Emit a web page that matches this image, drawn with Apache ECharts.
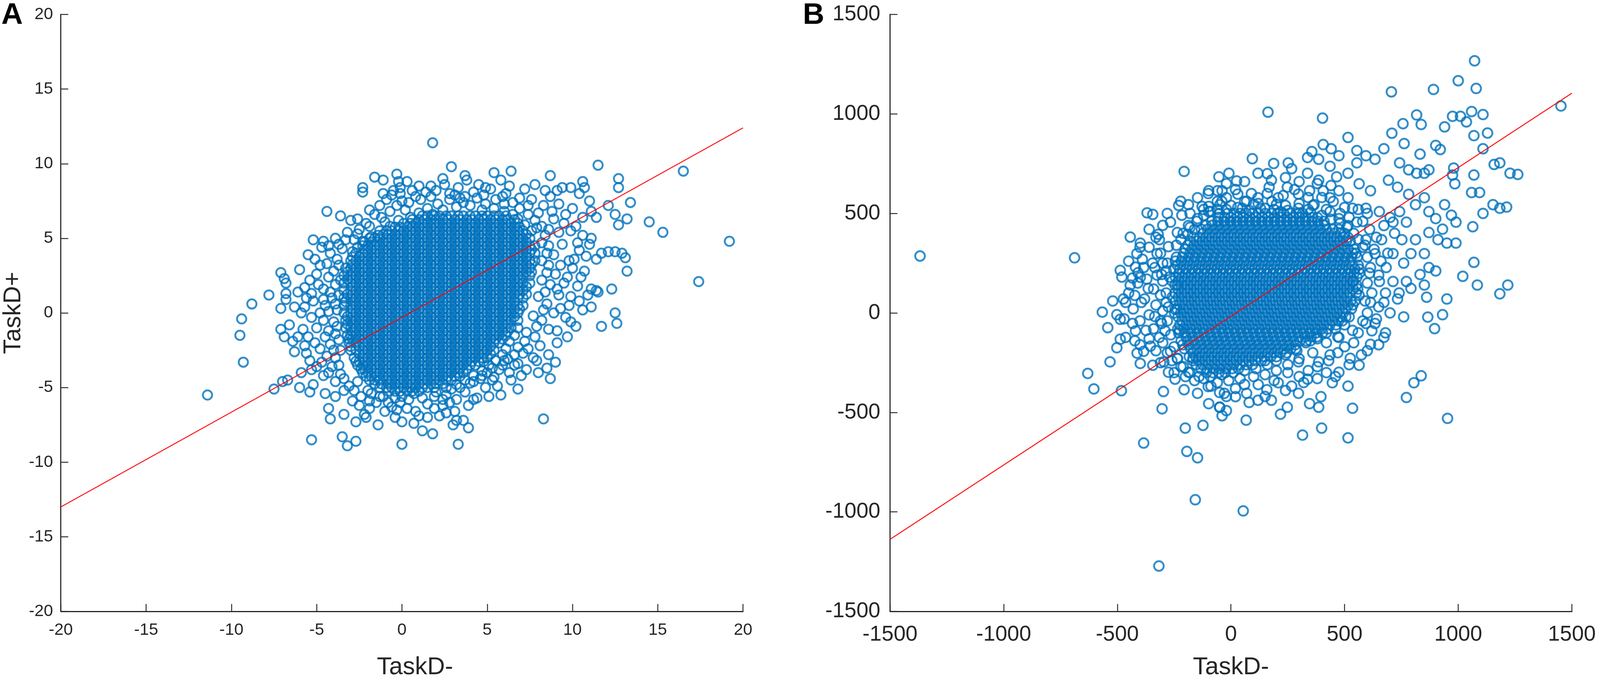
<!DOCTYPE html>
<html lang="en">
<head>
    <meta charset="UTF-8">
    <script src="https://cdn.jsdelivr.net/npm/echarts/dist/echarts.min.js"></script>
    <title>TaskD scatter</title>
    <style>
        html, body { margin: 0; padding: 0; background: #fff; overflow: hidden; }
        #chart { width: 4550px; height: 1752px; }
    </style>
</head>
<body>
<div id="chart"></div>
<script>
    // ---------------- panel A ----------------
    // single points far from the cloud
    var outliersA = [
        [1.8,11.4],[2.9,9.8],[3.7,9.2],[-1.6,9.1],[-1.1,8.9],[-0.3,9.3],[-0.2,8.8],[0.3,8.8],[-2.3,8.4],[-2.3,8.1],
        [-0.5,8.2],[-0.1,8.0],[0.0,7.5],[-4.4,6.8],[-3.6,6.5],[-3.0,6.2],[-2.6,6.3],[-5.2,4.9],[-4.7,4.4],[-4.3,4.5],
        [-5.1,3.6],[-7.1,2.7],[-6.9,2.3],[-6.8,2.0],[-7.8,1.2],[-8.8,0.6],[-7.1,0.3],[-9.4,-0.4],[-9.5,-1.5],[-9.3,-3.3],
        [-7.1,-1.1],[-6.9,-1.6],[-6.8,1.3],[-11.4,-5.5],[-7.5,-5.1],[-7.0,-4.6],[-6.7,-4.5],[-5.3,-8.5],[-3.5,-8.3],[-3.2,-8.9],
        [-2.7,-8.6],[-4.2,-7.1],[-2.7,-7.3],[-1.4,-7.5],[0.0,-8.8],[0.0,-7.3],[1.2,-7.9],[1.8,-8.1],[3.3,-8.8],[3.0,-7.5],
        [3.6,-7.2],[3.9,-7.7],[-2.1,-7.0],[-6.0,-5.0],[-5.4,-5.3],
        [5.4,9.4],[6.4,9.5],[11.5,9.9],[8.7,9.2],[12.7,9.0],[12.7,8.4],[10.6,8.8],[10.7,8.4],[7.8,8.6],[16.5,9.5],
        [13.4,7.4],[13.2,6.3],[14.5,6.1],[15.3,5.4],[19.2,4.8],[17.4,2.1],[13.2,2.8],[13.1,3.7],[12.9,4.0],[12.5,4.1],
        [12.3,1.6],[11.4,1.5],[12.6,-0.7],[12.5,0.0],[11.7,-0.9],[9.9,-0.6],[8.7,-4.4],[6.8,-5.1],[5.8,-5.5],[8.3,-7.1],
        [5.3,-4.5],[4.4,-5.7],[12.1,7.2],[12.5,6.6],[12.7,5.9],[11.1,6.8],[11.4,6.4]
    ];
    // looser band of points round the solid middle
    var haloA = [
        [-5.4,2.2],[-6.1,1.4],[-6.3,0.4],[-5.9,0.0],[-6.6,-0.8],[-6.1,-1.6],[-5.7,-2.2],[-6.3,-2.6],[-5.4,-3.2],[-5.9,-4.0],
        [-5.0,-3.6],[-5.2,-4.8],[-4.5,-5.4],[-3.9,-5.6],[-4.3,-6.4],[-3.4,-6.8],[-2.5,-6.2],[-1.9,-6.4],[-1.0,-6.6],[-0.1,-6.0],
        [0.8,-6.6],[1.5,-7.0],[2.4,-6.2],[3.1,-6.6],[-4.8,3.2],[-4.3,2.4],[-3.7,3.2],[-5.2,0.8],[-4.8,0.0],[-4.3,-1.2],
        [-4.8,-2.4],[-4.1,-3.6],[-3.4,-4.4],[-2.8,-5.2],[-3.9,5.0],[-3.2,5.4],[-2.5,5.6],[-1.9,5.8],[-1.2,6.4],[-0.7,6.8],
        [-0.3,7.2],[0.4,7.4],[1.1,7.6],[1.7,7.8],[3.1,7.9],[3.7,7.8],[-1.4,5.2],
        [9.9,8.4],[10.4,8.0],[9.4,8.4],[9.1,8.2],[8.7,7.8],[10.2,5.8],[10.6,5.2],[11.0,4.6],[10.4,4.2],[10.8,3.8],
        [11.1,5.0],[11.4,3.6],[11.7,4.0],[12.1,4.1],[10.5,2.4],[11.1,1.6],[11.5,1.4],[10.4,0.8],[11.1,0.4],[9.1,-1.2],
        [9.7,-1.6],[9.1,-2.0],[8.6,-2.8],[7.9,-3.2],[8.5,-3.7],[6.8,-3.4],[6.3,-4.0],[7.0,-4.2],[5.1,-5.6],[4.2,-5.8],
        [3.2,-5.8],[3.2,-7.2],
        [-4.6,1.6],[-4.1,1.0],[-3.8,0.2],[-4.0,-0.6],[-3.7,-1.8],[-4.4,-2.9],[-3.9,-3.0],[-3.6,2.2],[-4.0,2.8],[-3.5,4.3],
        [-4.2,4.0],[-3.6,-2.5],[-4.5,0.5],[-5.6,1.0],[-5.0,-1.0],[-5.5,-1.6],[-3.9,-4.6],[-3.1,-4.9],[-4.6,-4.2],
        [-2.8,4.9],[-1.0,6.1],[-1.6,6.6],[0.2,6.9],[0.8,7.8],[1.4,8.1],[2.0,8.2],[2.8,8.0],[4.2,8.1],[4.8,7.9],
        [5.5,7.6],[6.0,7.3],[6.5,7.4],[6.9,7.0],[7.4,6.6],[7.8,6.2],[8.2,5.8],[5.2,8.3],[6.1,8.0],[3.3,8.4],
        [-0.9,7.6],[1.0,8.5],
        [8.4,5.2],[8.6,4.5],[8.9,3.9],[8.6,3.2],[9.0,2.6],[8.7,1.9],[9.2,1.2],[8.5,0.6],[8.9,0.0],[8.2,-0.5],
        [8.6,-1.1],[7.8,-1.6],[8.1,-2.2],[7.4,-2.4],[7.7,-3.0],[9.4,4.6],[9.8,3.5],[9.5,2.0],[9.9,1.1],[9.3,0.3],
        [9.6,-0.3],[9.2,5.4],[9.6,6.6],[8.8,6.8],[8.3,7.2],[7.6,7.6],[10.0,3.0],[10.3,1.8],[9.0,-3.3],[8.0,-4.0],
        [7.3,-3.8],
        [6.6,-2.8],[6.0,-3.2],[5.7,-3.8],[5.0,-4.0],[4.6,-4.4],[4.0,-4.7],[3.4,-5.0],[2.6,-5.5],[1.9,-5.6],[1.2,-5.7],
        [0.4,-5.8],[-0.4,-5.7],[-1.1,-5.6],[-1.8,-5.4],[-2.4,-5.6],[-0.6,-6.3],[0.3,-6.4],[1.9,-6.4],[2.8,-6.0],[4.9,-5.0],
        [5.6,-4.9],[6.4,-4.5],[-1.5,-6.0],[2.2,-6.9],[-0.4,-7.0],
        [-3.8,3.6],[-4.4,3.3],[-5.0,2.6],[-3.9,1.9],[-4.9,1.9],[-5.7,1.7],[-4.2,1.4],[-3.7,1.2],[-5.3,1.3],[-4.6,0.9],
        [-3.9,0.6],[-5.7,0.4],[-4.3,0.1],[-5.3,-0.3],[-4.6,-0.5],[-3.8,-0.9],[-5.8,-1.1],[-4.5,-1.6],[-3.9,-1.4],[-5.1,-2.0],
        [-4.2,-2.1],[-5.6,-2.7],[-4.0,-2.5],[-4.7,-3.3],[-3.7,-3.5],[-5.3,-3.8],[-4.3,-4.0],[-3.6,-4.1],[-6.4,-1.9],[-6.8,0.9],
        [-6.0,2.9],[-5.5,3.9],[-4.6,4.8],[-3.7,4.6],[-3.3,4.9],
        [8.2,4.7],[8.5,4.0],[8.2,3.5],[8.5,2.7],[8.2,2.2],[8.4,1.4],[8.0,1.1],[8.3,0.2],[7.7,-0.2],[7.9,-0.9],
        [7.3,-1.3],[7.2,-1.9],[6.8,-2.3],[6.6,-3.5],[7.1,-2.7],[9.3,3.2],[9.7,2.4],[9.1,1.6],[9.8,0.5],[10.2,-0.9],
        [10.6,0.2],[10.9,1.2],[10.7,2.8],[10.1,3.6],[10.3,4.7],[9.9,5.5],[9.5,6.0],[8.9,6.3],[8.6,5.6],[7.9,5.7],
        [8.0,6.7],[8.4,8.2],[9.2,7.3],[10.0,7.0],[10.6,6.4],[11.0,7.5],[7.4,7.2],[6.9,7.7],[5.9,7.8],[6.3,8.5],
        [7.2,8.3],
        [4.5,8.6],[3.8,8.9],[2.5,8.6],[1.7,8.5],[0.6,8.2],[-0.1,8.4],[-0.6,7.9],[-1.3,7.2],[-1.9,6.9],[-2.1,6.0],
        [-2.6,5.3],[-1.1,8.0],[5.8,8.9],[4.9,8.4],[2.4,9.0],
        [-2.0,-5.2],[-2.6,-4.6],[-1.3,-5.6],[-0.8,-6.0],[0.0,-5.6],[0.7,-5.4],[1.5,-6.1],[2.4,-5.8],[2.9,-5.1],[3.7,-5.3],
        [4.2,-4.6],[4.7,-4.2],[5.4,-4.3],[5.3,-3.7],[5.9,-3.5],[6.2,-3.1],[3.9,-6.2],[1.0,-6.9],[-0.3,-6.5],[-1.9,-5.9],
        [-2.9,-5.9],[-3.4,-5.2],[-2.2,-6.8],[0.7,-7.4],[2.6,-6.7],
        [2.8,7.6],[3.6,7.4],[4.4,7.7],[2.1,7.3],[3.2,7.1],[4.0,7.2],[4.9,7.3],[1.5,7.0],[2.4,6.9],[5.4,7.0],
        [6.0,6.8],[1.0,6.7],[1.8,6.6],[6.5,6.6],[0.5,6.4],[-0.2,6.2],[-0.7,5.8],[-1.3,5.5],[-1.8,5.1],[-2.3,4.8],
        [-2.6,4.4],[-2.9,4.1],[6.8,6.3],[7.2,5.9],[7.6,5.5],[6.8,-1.0],[6.6,-1.5],[6.3,-1.9],[6.1,-2.4],[5.9,-2.8],
        [5.5,-3.2],[5.1,-3.5],[4.7,-3.9],[4.2,-4.2],[3.7,-4.5],[3.2,-4.8],[2.6,-5.0],[2.0,-5.3],[3.4,7.7],[4.7,6.9]
    ];
    // solid middle of the cloud: one row per TaskD+ level, x positions along it
    var coreRowsA = [
        [6.5,[1.2,1.5,1.9,2.2,2.6,2.9,3.3,3.6,4.0,4.3,4.7,5.0,5.4,5.7,6.1]],
        [6.25,[0.6,1.0,1.3,1.7,2.0,2.4,2.7,3.1,3.4,3.8,4.1,4.5,4.8,5.2,5.5,5.9,6.2,6.6]],
        [6.0,[0.1,0.5,0.8,1.2,1.5,1.9,2.2,2.6,2.9,3.3,3.6,4.0,4.3,4.7,5.0,5.4,5.7,6.1,6.4,6.8]],
        [5.75,[-0.4,-0.1,0.3,0.6,1.0,1.3,1.7,2.0,2.4,2.7,3.1,3.4,3.8,4.1,4.5,4.8,5.2,5.5,5.9,6.2,6.6,6.9]],
        [5.5,[-0.9,-0.6,-0.2,0.1,0.5,0.8,1.2,1.5,1.9,2.2,2.6,2.9,3.3,3.6,4.0,4.3,4.7,5.0,5.4,5.7,6.1,6.4,6.8,7.1]],
        [5.25,[-1.1,-0.8,-0.4,-0.1,0.3,0.6,1.0,1.3,1.7,2.0,2.4,2.7,3.1,3.4,3.8,4.1,4.5,4.8,5.2,5.5,5.9,6.2,6.6,6.9,7.3]],
        [5.0,[-1.9,-1.6,-1.3,-0.9,-0.6,-0.2,0.1,0.5,0.8,1.2,1.5,1.9,2.2,2.6,2.9,3.3,3.6,4.0,4.3,4.7,5.0,5.4,5.7,6.1,6.4,6.8,7.1,7.5]],
        [4.75,[-2.2,-1.8,-1.5,-1.1,-0.8,-0.4,-0.1,0.3,0.6,1.0,1.3,1.7,2.0,2.4,2.7,3.1,3.4,3.8,4.1,4.5,4.8,5.2,5.5,5.9,6.2,6.6,6.9,7.3]],
        [4.5,[-2.3,-2.0,-1.6,-1.3,-0.9,-0.6,-0.2,0.1,0.5,0.8,1.2,1.5,1.9,2.2,2.6,2.9,3.3,3.6,4.0,4.3,4.7,5.0,5.4,5.7,6.1,6.4,6.8,7.1,7.5,7.8]],
        [4.25,[-2.2,-1.8,-1.5,-1.1,-0.8,-0.4,-0.1,0.3,0.6,1.0,1.3,1.7,2.0,2.4,2.7,3.1,3.4,3.8,4.1,4.5,4.8,5.2,5.5,5.9,6.2,6.6,6.9,7.3,7.6]],
        [4.0,[-2.7,-2.3,-2.0,-1.6,-1.3,-0.9,-0.6,-0.2,0.1,0.5,0.8,1.2,1.5,1.9,2.2,2.6,2.9,3.3,3.6,4.0,4.3,4.7,5.0,5.4,5.7,6.1,6.4,6.8,7.1,7.5,7.8]],
        [3.75,[-2.9,-2.5,-2.2,-1.8,-1.5,-1.1,-0.8,-0.4,-0.1,0.3,0.6,1.0,1.3,1.7,2.0,2.4,2.7,3.1,3.4,3.8,4.1,4.5,4.8,5.2,5.5,5.9,6.2,6.6,6.9,7.3]],
        [3.5,[-3.0,-2.7,-2.3,-2.0,-1.6,-1.3,-0.9,-0.6,-0.2,0.1,0.5,0.8,1.2,1.5,1.9,2.2,2.6,2.9,3.3,3.6,4.0,4.3,4.7,5.0,5.4,5.7,6.1,6.4,6.8,7.1,7.5,7.8]],
        [3.25,[-2.9,-2.5,-2.2,-1.8,-1.5,-1.1,-0.8,-0.4,-0.1,0.3,0.6,1.0,1.3,1.7,2.0,2.4,2.7,3.1,3.4,3.8,4.1,4.5,4.8,5.2,5.5,5.9,6.2,6.6,6.9,7.3,7.6]],
        [3.0,[-3.3,-3.0,-2.7,-2.3,-2.0,-1.6,-1.3,-0.9,-0.6,-0.2,0.1,0.5,0.8,1.2,1.5,1.9,2.2,2.6,2.9,3.3,3.6,4.0,4.3,4.7,5.0,5.4,5.7,6.1,6.4,6.8,7.1,7.5]],
        [2.75,[-3.2,-2.9,-2.5,-2.2,-1.8,-1.5,-1.1,-0.8,-0.4,-0.1,0.3,0.6,1.0,1.3,1.7,2.0,2.4,2.7,3.1,3.4,3.8,4.1,4.5,4.8,5.2,5.5,5.9,6.2,6.6,6.9,7.3,7.6]],
        [2.5,[-3.4,-3.0,-2.7,-2.3,-2.0,-1.6,-1.3,-0.9,-0.6,-0.2,0.1,0.5,0.8,1.2,1.5,1.9,2.2,2.6,2.9,3.3,3.6,4.0,4.3,4.7,5.0,5.4,5.7,6.1,6.4,6.8,7.1,7.5]],
        [2.25,[-3.2,-2.9,-2.5,-2.2,-1.8,-1.5,-1.1,-0.8,-0.4,-0.1,0.3,0.6,1.0,1.3,1.7,2.0,2.4,2.7,3.1,3.4,3.8,4.1,4.5,4.8,5.2,5.5,5.9,6.2,6.6,6.9]],
        [2.0,[-3.4,-3.0,-2.7,-2.3,-2.0,-1.6,-1.3,-0.9,-0.6,-0.2,0.1,0.5,0.8,1.2,1.5,1.9,2.2,2.6,2.9,3.3,3.6,4.0,4.3,4.7,5.0,5.4,5.7,6.1,6.4,6.8,7.1,7.5]],
        [1.75,[-2.9,-2.5,-2.2,-1.8,-1.5,-1.1,-0.8,-0.4,-0.1,0.3,0.6,1.0,1.3,1.7,2.0,2.4,2.7,3.1,3.4,3.8,4.1,4.5,4.8,5.2,5.5,5.9,6.2,6.6,6.9,7.3]],
        [1.5,[-3.4,-3.0,-2.7,-2.3,-2.0,-1.6,-1.3,-0.9,-0.6,-0.2,0.1,0.5,0.8,1.2,1.5,1.9,2.2,2.6,2.9,3.3,3.6,4.0,4.3,4.7,5.0,5.4,5.7,6.1,6.4,6.8,7.1]],
        [1.25,[-3.2,-2.9,-2.5,-2.2,-1.8,-1.5,-1.1,-0.8,-0.4,-0.1,0.3,0.6,1.0,1.3,1.7,2.0,2.4,2.7,3.1,3.4,3.8,4.1,4.5,4.8,5.2,5.5,5.9,6.2,6.6,6.9,7.3]],
        [1.0,[-3.4,-3.0,-2.7,-2.3,-2.0,-1.6,-1.3,-0.9,-0.6,-0.2,0.1,0.5,0.8,1.2,1.5,1.9,2.2,2.6,2.9,3.3,3.6,4.0,4.3,4.7,5.0,5.4,5.7,6.1,6.4,6.8,7.1]],
        [0.75,[-3.3,-2.9,-2.5,-2.2,-1.8,-1.5,-1.1,-0.8,-0.4,-0.1,0.3,0.6,1.0,1.3,1.7,2.0,2.4,2.7,3.1,3.4,3.8,4.1,4.5,4.8,5.2,5.5,5.9,6.2,6.6]],
        [0.5,[-3.4,-3.0,-2.7,-2.3,-2.0,-1.6,-1.3,-0.9,-0.6,-0.2,0.1,0.5,0.8,1.2,1.5,1.9,2.2,2.6,2.9,3.3,3.6,4.0,4.3,4.7,5.0,5.4,5.7,6.1,6.4,6.8,7.1]],
        [0.25,[-2.9,-2.5,-2.2,-1.8,-1.5,-1.1,-0.8,-0.4,-0.1,0.3,0.6,1.0,1.3,1.7,2.0,2.4,2.7,3.1,3.4,3.8,4.1,4.5,4.8,5.2,5.5,5.9,6.2,6.6,6.9]],
        [0.0,[-3.4,-3.0,-2.7,-2.3,-2.0,-1.6,-1.3,-0.9,-0.6,-0.2,0.1,0.5,0.8,1.2,1.5,1.9,2.2,2.6,2.9,3.3,3.6,4.0,4.3,4.7,5.0,5.4,5.7,6.1,6.4,6.8]],
        [-0.25,[-3.2,-2.9,-2.5,-2.2,-1.8,-1.5,-1.1,-0.8,-0.4,-0.1,0.3,0.6,1.0,1.3,1.7,2.0,2.4,2.7,3.1,3.4,3.8,4.1,4.5,4.8,5.2,5.5,5.9,6.2,6.6]],
        [-0.5,[-3.3,-3.0,-2.7,-2.3,-2.0,-1.6,-1.3,-0.9,-0.6,-0.2,0.1,0.5,0.8,1.2,1.5,1.9,2.2,2.6,2.9,3.3,3.6,4.0,4.3,4.7,5.0,5.4,5.7,6.1,6.4,6.8]],
        [-0.75,[-3.2,-2.9,-2.5,-2.2,-1.8,-1.5,-1.1,-0.8,-0.4,-0.1,0.3,0.6,1.0,1.3,1.7,2.0,2.4,2.7,3.1,3.4,3.8,4.1,4.5,4.8,5.2,5.5,5.9,6.2]],
        [-1.0,[-3.3,-3.0,-2.7,-2.3,-2.0,-1.6,-1.3,-0.9,-0.6,-0.2,0.1,0.5,0.8,1.2,1.5,1.9,2.2,2.6,2.9,3.3,3.6,4.0,4.3,4.7,5.0,5.4,5.7,6.1,6.4]],
        [-1.25,[-2.9,-2.5,-2.2,-1.8,-1.5,-1.1,-0.8,-0.4,-0.1,0.3,0.6,1.0,1.3,1.7,2.0,2.4,2.7,3.1,3.4,3.8,4.1,4.5,4.8,5.2,5.5,5.9,6.2]],
        [-1.5,[-3.2,-3.0,-2.7,-2.3,-2.0,-1.6,-1.3,-0.9,-0.6,-0.2,0.1,0.5,0.8,1.2,1.5,1.9,2.2,2.6,2.9,3.3,3.6,4.0,4.3,4.7,5.0,5.4,5.7,6.1]],
        [-1.75,[-3.1,-2.9,-2.5,-2.2,-1.8,-1.5,-1.1,-0.8,-0.4,-0.1,0.3,0.6,1.0,1.3,1.7,2.0,2.4,2.7,3.1,3.4,3.8,4.1,4.5,4.8,5.2,5.5,5.9]],
        [-2.0,[-3.1,-2.7,-2.3,-2.0,-1.6,-1.3,-0.9,-0.6,-0.2,0.1,0.5,0.8,1.2,1.5,1.9,2.2,2.6,2.9,3.3,3.6,4.0,4.3,4.7,5.0,5.4,5.7]],
        [-2.25,[-3.0,-2.5,-2.2,-1.8,-1.5,-1.1,-0.8,-0.4,-0.1,0.3,0.6,1.0,1.3,1.7,2.0,2.4,2.7,3.1,3.4,3.8,4.1,4.5,4.8,5.2]],
        [-2.5,[-3.0,-2.7,-2.3,-2.0,-1.6,-1.3,-0.9,-0.6,-0.2,0.1,0.5,0.8,1.2,1.5,1.9,2.2,2.6,2.9,3.3,3.6,4.0,4.3,4.7,5.0,5.4]],
        [-2.75,[-2.5,-2.2,-1.8,-1.5,-1.1,-0.8,-0.4,-0.1,0.3,0.6,1.0,1.3,1.7,2.0,2.4,2.7,3.1,3.4,3.8,4.1,4.5,4.8,5.2]],
        [-3.0,[-2.8,-2.3,-2.0,-1.6,-1.3,-0.9,-0.6,-0.2,0.1,0.5,0.8,1.2,1.5,1.9,2.2,2.6,2.9,3.3,3.6,4.0,4.3,4.7,5.0]],
        [-3.25,[-2.7,-2.5,-2.2,-1.8,-1.5,-1.1,-0.8,-0.4,-0.1,0.3,0.6,1.0,1.3,1.7,2.0,2.4,2.7,3.1,3.4,3.8,4.1,4.5,4.8]],
        [-3.5,[-2.6,-2.3,-2.0,-1.6,-1.3,-0.9,-0.6,-0.2,0.1,0.5,0.8,1.2,1.5,1.9,2.2,2.6,2.9,3.3,3.6,4.0,4.3]],
        [-3.75,[-2.4,-2.2,-1.8,-1.5,-1.1,-0.8,-0.4,-0.1,0.3,0.6,1.0,1.3,1.7,2.0,2.4,2.7,3.1,3.4,3.8]],
        [-4.0,[-2.3,-2.0,-1.6,-1.3,-0.9,-0.6,-0.2,0.1,0.5,0.8,1.2,1.5,1.9,2.2,2.6,2.9,3.3,3.6]],
        [-4.25,[-2.1,-1.8,-1.5,-1.1,-0.8,-0.4,-0.1,0.3,0.6,1.0,1.3,1.7,2.0,2.4,2.7,3.1,3.4]],
        [-4.5,[-1.9,-1.6,-1.3,-0.9,-0.6,-0.2,0.1,0.5,0.8,1.2,1.5,1.9,2.2,2.6,2.9]],
        [-4.75,[-1.6,-1.2,-0.8,-0.4,-0.1,0.3,0.6,1.0,1.3,1.7,2.0,2.4]],
        [-5.0,[-1.3,-0.9,-0.6,-0.2,0.1,0.5,0.8,1.2,1.5,1.9]],
        [-5.25,[-0.8,-0.4,-0.1,0.3,0.6,1.0]]
    ];
    // red fit line, ends read at the axis limits
    var lineA = [[-20,-13.0],[20,12.4]];

    // ---------------- panel B ----------------
    var outliersB = [
        [-1368,286],[-688,277],[-206,711],[-221,561],[-369,503],[-344,495],[-443,381],[-399,351],[-320,395],[-487,214],
        [-409,202],[-399,179],[-566,4],[-542,-74],[-532,-246],[-630,-304],[-603,-382],[-482,-391],[-384,-654],[-303,-482],
        [-297,-395],[-201,-579],[-123,-565],[-194,-696],[-147,-728],[-157,-939],[-317,-1272],[-39,-517],[-53,684],[-9,702],
        [-502,-9],[-487,-32],[-473,70],[-433,175],[-423,88],[-502,-175],[-487,-132],[-423,-140],[-413,-202],[-354,-167],
        [-295,-246],[-399,-254],[-127,535],[-98,535],
        [1072,1267],[1000,1167],[891,1123],[1079,1128],[706,1111],[163,1009],[403,979],[1452,1040],[817,995],[837,947],
        [757,951],[940,935],[975,988],[1010,988],[1036,960],[1059,1012],[1109,997],[1069,891],[1129,904],[1109,825],
        [708,903],[762,851],[832,798],[901,842],[921,821],[1069,693],[1158,746],[1183,754],[1228,702],[1262,696],
        [1059,605],[1094,605],[1153,544],[1183,526],[1213,532],[1109,500],[1064,433],[1069,254],[1020,184],[1084,140],
        [1183,96],[1218,140],[950,70],[861,79],[866,-21],[931,-9],[896,-79],[837,-316],[805,-351],[772,-425],
        [953,-530],[54,-995],[515,-628],[315,-614],[399,-579],[535,-479],[67,-539],[25,663],[980,728],[975,693],
        [985,649]
    ];
    var haloB = [
        [94,775],[188,751],[515,882],[554,816],[406,846],[441,825],[337,781],[356,811],[252,754],[267,725],
        [742,754],[782,719],[817,702],[851,702],[871,719],[693,667],[733,632],[782,596],[812,544],[851,579],
        [871,509],[901,474],[940,544],[970,491],[990,456],[931,421],[871,404],[812,368],[851,298],[792,298],
        [752,368],[871,228],[911,368],[950,351],[990,351],[901,211],[832,193],[772,158],[792,123],[851,140],
        [733,70],[673,53],[634,-53],[673,-123],[614,-158],[574,-211],[525,-228],[564,-263],[475,-298],[515,-368],
        [446,-351],[396,-421],[386,-474],[346,-456],[297,-404],[248,-474],[218,-509],[178,-439],[158,-386],[119,-439],
        [69,-404],[20,-421],[-20,-491],[-50,-474],[267,-368],[208,-351],[337,-333],[386,-246],[436,-211],[297,-246],
        [475,-123],[535,-88],[594,-53],[614,53],[564,88],[535,158],[614,228],[653,158],[634,298],[594,368],
        [663,368],[713,298],[683,228],[713,158],[535,526],[594,526],[614,614],[564,649],[515,702],[475,614],
        [436,579],[386,667],[337,702],[297,597],[248,632],[208,579],[168,632],[119,579],[69,561],[30,597],
        [-40,561],[-59,614],[653,509],[673,439],[713,456],[742,509],[772,456],[673,825],[634,772],[594,790],
        [554,754],[475,790],[436,737],[386,772],
        [-20,579],[50,526],[149,526],[218,509],[297,526],[366,544],[436,509],[475,474],[515,439],[554,456],
        [119,702],[178,667],[346,614],[406,614],[465,684],[515,579],
        [-443,140],[-384,228],[-364,123],[-325,298],[-305,193],[-285,53],[-335,-18],[-374,-88],[-315,-123],[-266,-193],
        [-344,-263],[-246,-333],[-206,-386],[-147,-404],[-98,-456],[-49,-474],[-187,-298],[-275,333],[-236,404],[-187,439],
        [-147,474],[-98,509],[-49,544],[-266,456],[-315,368],[-414,298],[-463,53],[-433,-53],[-463,-123],[-384,-193],
        [-335,228],[-394,53],[-305,-53],[-226,-88],[-167,-228],[-88,-368],[-29,-404],[-275,-298],[-39,614],[-98,614],
        [-147,579],[-187,544],[-216,491],[-285,211],[-236,140],[-246,18],[-236,-228],
        [-300,440],[-330,380],[-360,330],[-310,300],[-390,270],[-345,250],[-300,250],[-420,230],[-325,190],[-370,170],
        [-300,160],[-410,150],[-340,120],[-450,100],[-310,90],[-380,70],[-330,40],[-430,20],[-300,10],[-360,-10],
        [-400,-40],[-310,-40],[-340,-80],[-420,-90],[-290,-90],[-360,-130],[-300,-150],[-400,-160],[-330,-190],[-280,-200],
        [-260,-240],[-310,-250],[-220,-270],[-250,-300],[-200,-320],[-160,-340],[-120,-330],[-60,-350],[-10,-340],[40,-330],
        [-100,-370],[-50,-400],[-470,-30],[-520,60],[-480,180],[-450,260],[-400,330],[-360,420],[-280,500],[-230,540],
        [-180,500],[-120,520],[-60,560],[0,540],[60,560],[120,550],[180,560],[240,540],[300,550],[360,540],
        [420,520],[480,500],[520,480],[-100,600],[20,620],[90,600],[160,600],[230,590],[280,620],[340,580],
        [400,580],[450,560],[500,530],[560,520],[600,500],[240,680],[160,700],[60,660],[-20,650],[300,660],
        [380,650],[440,640],
        [580,460],[610,420],[640,380],[590,340],[630,320],[600,280],[660,260],[610,200],[650,190],[600,150],
        [680,100],[620,100],[590,60],[650,30],[600,0],[640,-30],[580,-40],[620,-90],[560,-100],[540,-150],
        [600,-190],[500,-170],[470,-200],[430,-240],[520,-260],[380,-270],[340,-290],[420,-300],[690,300],[720,400],
        [700,480],[760,250],[740,100],[700,0],[760,-20],[680,-100],[650,-160],
        [300,-320],[250,-300],[200,-290],[150,-310],[100,-320],[60,-360],[120,-360],[190,-340],[240,-390],[320,-350],
        [380,-330],[460,-320],[20,-380],[-20,-420],[80,-450],[150,-420],
        [-280,250],[-270,180],[-285,100],[-275,30],[-280,-40],[-265,-110],[-250,-170],[-235,-230],[-210,-270],[-180,-300],
        [-140,-320],[-90,-320],[-40,-310],[10,-300],[60,-290],[110,-280],[160,-260],[200,-240],[240,-210],[290,-190],
        [330,-150],[380,-130],[420,-100],[460,-80],[500,-60],[520,-20],[420,-150],[360,-200],[300,-230],[250,-260],
        [470,-120],[-210,400],[-180,430],[-150,460],[-120,490],[-90,510],[-60,520],[-20,520],[30,530],[80,515],
        [130,525],[190,520],[250,515],[300,500],[350,505],[400,490],[440,470],[480,450],[510,430],[540,400],
        [560,370],[580,330],[-240,340],[-220,370],[-190,395],[-160,420],[-50,500],[340,520],[100,545],[200,545]
    ];
    var coreRowsB = [
        [500,[-15,12,40,67,95,122,150,177,205,232,260,287,315]],
        [480,[-55,-27,0,28,55,83,110,138,165,193,220,248,275,303,330,358,380]],
        [460,[-85,-58,-30,-3,25,52,80,107,135,162,190,217,245,272,300,327,355,382,410]],
        [440,[-110,-82,-55,-27,0,28,55,83,110,138,165,193,220,248,275,303,330,358,385,413]],
        [420,[-130,-103,-75,-48,-20,7,35,62,90,117,145,172,200,227,255,282,310,337,365,392,420,447,475]],
        [400,[-122,-95,-67,-40,-12,15,43,70,98,125,153,180,208,235,263,290,318,345,373,400,428,455,483,500]],
        [380,[-165,-138,-110,-83,-55,-28,0,27,55,82,110,137,165,192,220,247,275,302,330,357,385,412,440,467,495,515]],
        [360,[-180,-152,-125,-97,-70,-42,-15,13,40,68,95,123,150,178,205,233,260,288,315,343,370,398,425,453,480,508,525]],
        [340,[-190,-163,-135,-108,-80,-53,-25,2,30,57,85,112,140,167,195,222,250,277,305,332,360,387,415,442,470,497]],
        [320,[-200,-172,-145,-117,-90,-62,-35,-7,20,48,75,103,130,158,185,213,240,268,295,323,350,378,405,433,460,488,515,543]],
        [300,[-207,-180,-152,-125,-97,-70,-42,-15,13,40,68,95,123,150,178,205,233,260,288,315,343,370,398,425,453,480,508,535,550]],
        [280,[-240,-213,-185,-158,-130,-103,-75,-48,-20,7,35,62,90,117,145,172,200,227,255,282,310,337,365,392,420,447,475,502,530,555]],
        [260,[-245,-218,-190,-163,-135,-108,-80,-53,-25,2,30,57,85,112,140,167,195,222,250,277,305,332,360,387,415,442,470,497,525]],
        [240,[-236,-208,-181,-153,-126,-98,-71,-43,-16,12,39,67,94,122,149,177,204,232,259,287,314,342,369,397,424,452,479,507,534,560]],
        [220,[-252,-225,-197,-170,-142,-115,-87,-60,-32,-5,23,50,78,105,133,160,188,215,243,270,298,325,353,380,408,435,463,490,518,545,565]],
        [200,[-228,-200,-173,-145,-118,-90,-63,-35,-8,20,47,75,102,130,157,185,212,240,267,295,322,350,377,405,432,460,487,515,542,565]],
        [180,[-244,-216,-189,-161,-134,-106,-79,-51,-24,4,31,59,86,114,141,169,196,224,251,279,306,334,361,389,416,444,471,499,526,554]],
        [160,[-259,-231,-204,-176,-149,-121,-94,-66,-39,-11,16,44,71,99,126,154,181,209,236,264,291,319,346,374,401,429,456,484,511,539]],
        [140,[-246,-218,-191,-163,-136,-108,-81,-53,-26,2,29,57,84,112,139,167,194,222,249,277,304,332,359,387,414,442,469,497,524,552]],
        [120,[-232,-204,-177,-149,-122,-94,-67,-39,-12,16,43,71,98,126,153,181,208,236,263,291,318,346,373,401,428,456,483,511,538,558]],
        [100,[-246,-218,-191,-163,-136,-108,-81,-53,-26,2,29,57,84,112,139,167,194,222,249,277,304,332,359,387,414,442,469,497,524,552]],
        [80,[-258,-231,-203,-176,-148,-121,-93,-66,-38,-11,17,44,72,99,127,154,182,209,237,264,292,319,347,374,402,429,457,484,512]],
        [60,[-243,-215,-188,-160,-133,-105,-78,-50,-23,5,32,60,87,115,142,170,197,225,252,280,307,335,362,390,417,445,472,500,527,546]],
        [40,[-227,-199,-172,-144,-117,-89,-62,-34,-7,21,48,76,103,131,158,186,213,241,268,296,323,351,378,406,433,461,488,516,536]],
        [20,[-238,-210,-183,-155,-128,-100,-73,-45,-18,10,37,65,92,120,147,175,202,230,257,285,312,340,367,395,422,450,477,505,530]],
        [0,[-248,-221,-193,-166,-138,-111,-83,-56,-28,-1,27,54,82,109,137,164,192,219,247,274,302,329,357,384,412,439,467,494]],
        [-20,[-232,-204,-177,-149,-122,-94,-67,-39,-12,16,43,71,98,126,153,181,208,236,263,291,318,346,373,401,428,456,483,505]],
        [-40,[-215,-187,-160,-132,-105,-77,-50,-22,5,33,60,88,115,143,170,198,225,253,280,308,335,363,390,418,445,473,490]],
        [-60,[-225,-197,-170,-142,-115,-87,-60,-32,-5,23,50,78,105,133,160,188,215,243,270,298,325,353,380,408,435,463]],
        [-80,[-234,-207,-179,-152,-124,-97,-69,-42,-14,13,41,68,96,123,151,178,206,233,261,288,316,343,371,398,426]],
        [-100,[-230,-202,-175,-147,-120,-92,-65,-37,-10,18,45,73,100,128,155,183,210,238,265,293,320,348,375,403]],
        [-120,[-197,-169,-142,-114,-87,-59,-32,-4,23,51,78,106,133,161,188,216,243,271,298,326,353,378]],
        [-140,[-219,-191,-164,-136,-109,-81,-54,-26,1,29,56,84,111,139,166,194,221,249,276,304,331,350]],
        [-160,[-212,-185,-157,-130,-102,-75,-47,-20,8,35,63,90,118,145,173,200,228,255,283]],
        [-180,[-205,-177,-150,-122,-95,-67,-40,-12,15,43,70,98,125,153,180,208,235,263,285]],
        [-200,[-167,-139,-112,-84,-57,-29,-2,26,53,81,108,136,163,191,218,245]],
        [-220,[-183,-155,-128,-100,-73,-45,-18,10,37,65,92,120,147,175,200]],
        [-240,[-168,-141,-113,-86,-58,-31,-3,24,52,79,107,134,150]],
        [-260,[-153,-125,-98,-70,-43,-15,12,40,67,95]],
        [-280,[-132,-105,-77,-50,-22,5,33]],
        [-300,[-108,-80,-53,-25]]
    ];
    var lineB = [[-1500,-1138],[1500,1104]];

    // turn the row tables into [x, y] pairs
    function rowsToPoints(rows) {
        var out = [];
        rows.forEach(function (row) {
            row[1].forEach(function (x) { out.push([x, row[0]]); });
        });
        return out;
    }
    var pointsA = outliersA.concat(haloA, rowsToPoints(coreRowsA));
    var pointsB = outliersB.concat(haloB, rowsToPoints(coreRowsB));

    // page may come up narrower than the 4550x1752 it was laid out for
    var W = window.innerWidth || 4550;
    var H = window.innerHeight || 1752;
    var sx = W / 4550, sy = H / 1752, s = (sx + sy) / 2;

    var chartDom = document.getElementById('chart');
    chartDom.style.width = W + 'px';
    chartDom.style.height = H + 'px';

    var axisColor = '#262626';
    var fontName = '"Liberation Sans", Arial, Helvetica, sans-serif';

    // matlab-like axis: line only on its own side, ticks pointing in
    function makeAxis(grid, min, max, step, labelSize, labelMargin) {
        return {
            type: 'value',
            gridIndex: grid,
            min: min,
            max: max,
            interval: step,
            axisLine: { show: true, onZero: false, lineStyle: { color: axisColor, width: 3 * s } },
            axisTick: { show: true, inside: true, length: 20 * s, lineStyle: { color: axisColor, width: 2.5 * s } },
            axisLabel: {
                color: axisColor, fontSize: labelSize * s, fontFamily: fontName, margin: labelMargin * s,
                formatter: function (v) { return String(v); }
            },
            splitLine: { show: false }
        };
    }

    var xA = makeAxis(0, -20, 20, 5, 45, 28);
    xA.name = 'TaskD-';
    xA.nameLocation = 'middle';
    xA.nameGap = 112 * sy;
    xA.nameTextStyle = { color: axisColor, fontSize: 66 * s, fontFamily: fontName, padding: [0, 0, 0, 74 * sx] };

    var yA = makeAxis(0, -20, 20, 5, 45, 21);
    yA.name = 'TaskD+';
    yA.nameLocation = 'middle';
    yA.nameGap = 100 * sx;
    yA.nameRotate = 90;
    yA.nameTextStyle = { color: axisColor, fontSize: 66 * s, fontFamily: fontName };

    var xB = makeAxis(1, -1500, 1500, 500, 58, 34);
    xB.name = 'TaskD-';
    xB.nameLocation = 'middle';
    xB.nameGap = 112 * sy;
    xB.nameTextStyle = { color: axisColor, fontSize: 66 * s, fontFamily: fontName };

    var yB = makeAxis(1, -1500, 1500, 500, 58, 26);

    var ring = { color: 'rgba(0,0,0,0)', borderColor: '#0072BD', borderWidth: 5 * s };

    var option = {
        animation: false,
        backgroundColor: '#ffffff',
        grid: [
            { left: 173 * sx, right: 2437 * sx, top: 37 * sy, bottom: 186 * sy },
            { left: 2531 * sx, right: 80 * sx, top: 37 * sy, bottom: 186 * sy }
        ],
        xAxis: [xA, xB],
        yAxis: [yA, yB],
        graphic: [
            { type: 'text', left: 4 * sx, top: 2 * sy, style: { text: 'A', font: 'bold ' + Math.round(80 * s) + 'px ' + fontName, fill: '#000' } },
            { type: 'text', left: 2283 * sx, top: 2 * sy, style: { text: 'B', font: 'bold ' + Math.round(80 * s) + 'px ' + fontName, fill: '#000' } }
        ],
        series: [
            {
                type: 'scatter', xAxisIndex: 0, yAxisIndex: 0,
                symbol: 'circle', symbolSize: 25 * s, itemStyle: ring,
                large: false, progressive: 0, silent: true,
                data: pointsA
            },
            {
                type: 'line', xAxisIndex: 0, yAxisIndex: 0, z: 5,
                symbol: 'none', silent: true,
                lineStyle: { color: '#FF0000', width: 2.5 * s },
                data: lineA
            },
            {
                type: 'scatter', xAxisIndex: 1, yAxisIndex: 1,
                symbol: 'circle', symbolSize: 26 * s, itemStyle: ring,
                large: false, progressive: 0, silent: true,
                data: pointsB
            },
            {
                type: 'line', xAxisIndex: 1, yAxisIndex: 1, z: 5,
                symbol: 'none', silent: true,
                lineStyle: { color: '#FF0000', width: 2.5 * s },
                data: lineB
            }
        ]
    };

    var myChart = echarts.init(chartDom);
    myChart.setOption(option);
</script>
</body>
</html>
